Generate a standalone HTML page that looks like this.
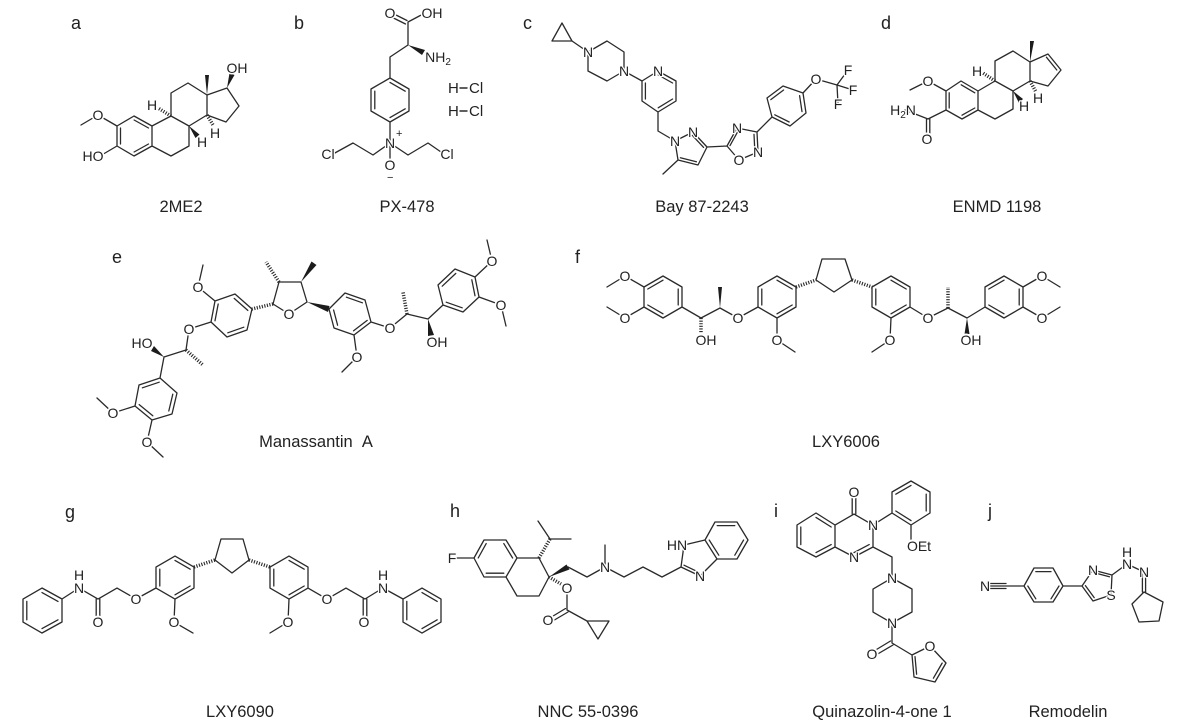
<!DOCTYPE html>
<html><head><meta charset="utf-8"><style>
html,body{margin:0;padding:0;background:#fff}
svg{display:block;filter:blur(.35px)}
text{font-family:"Liberation Sans",sans-serif;fill:#222}
.b{fill:none;stroke:#2a2a2a;stroke-width:1.3;stroke-linejoin:round;stroke-linecap:round}
.i{fill:none;stroke:#2a2a2a;stroke-width:1.6;stroke-linecap:round}
.h{fill:none;stroke:#2a2a2a;stroke-width:3.5;stroke-dasharray:1.1 1.5}
.w{fill:#1c1c1c}
.o circle{fill:#fff;r:6.5px}
.t text{font-size:14px;text-anchor:middle;paint-order:stroke;stroke:#fff;stroke-width:2.5px;stroke-linejoin:round}
.c text{font-size:16.5px;text-anchor:middle}
.l text{font-size:18px}
</style></head><body>
<svg width="1183" height="725" viewBox="0 0 1183 725" xmlns="http://www.w3.org/2000/svg">
<rect width="1183" height="725" fill="#fff"/>
<g class="b">
<!-- a -->
<path d="M81 125L98 115L117 126L134 116L152 126L152 146L134 156L117 146L117 126M117 146L100 156M152 126L171 116L171 93L188 83L207 95L207 115L189 126L189 146L171 156L152 146M171 116L189 126M207 95L227 88L239 106L226 122L207 115"/>
<!-- b -->
<path d="M389 11.5L407 20.5M387.500 15L405.500 24M408 22L425 13M408 22L408 45L390 57L390 78L409 89L409 111L390 122L371 111L371 89L390 78M390 122L390 143L373 155L353 143L333 154M390 143L408 155L428 143L441 152M390 143L390 160"/>
<path d="M460 88H467M460 111H467" stroke-width="1.4"/>
<!-- c -->
<path d="M562 23L552 41L572 41L562 23M572 41L588 52L607 41L624 52L624 71L607 81L588 71L588 52M624 71L642 81L658 71L676 81L676 101L658 112L642 101L642 81M658 112L658 131L675 141L693 132L707 147L698 165L678 160L675 141M678 160L663 174M707 147L727 146L737 128L757 132L758 152L739 160L727 146M757 132L772 117L790 126L806 113L803 93L783 86L767 98L772 117M803 93L816 79L837 85L848 70M837 85L853 90M837 85L838 104"/>
<!-- d -->
<path d="M910 90L928 81L946 91L961 81L978 91L978 110L962 119L946 110L946 91M946 110L928 119L905 110M926.500 119L926.500 134M929.800 119L929.800 134M978 91L995 81L995 61L1013 51L1030 62L1030 81L1013 91L1013 109L995 119L978 110M995 81L1013 91M1030 62L1048 54L1061 70L1048 86L1030 81"/>
<!-- e -->
<path d="M203 265L198 287L215 301L235 294L252 309L247 330L227 337L211 322L215 301M211 322L189 329L186 350L164 357L160 378L177 393L172 414L152 420L135 406L139 385L160 378M135 406L113 413L97 398M152 420L147 442L163 457M273 304L279 282L301 282L307 302L289 314L273 304M329 309L345 293L365 300L371 322L354 335L334 328L329 309M354 335L357 357L342 372M371 322L390 328L407 314L428 319L443 305L463 312L479 297L475 277L455 269L438 285L443 305M475 277L492 261L487 240M479 297L501 305L506 326"/>
<!-- f -->
<path d="M607 287L625 276L644 287L663 276L682 287L682 307L663 318L644 307L644 287M607 307L625 318L644 307M682 307L701 318L720 308L738 318L758 307L758 287L777 276L796 287L796 307L777 318L758 307M777 318L777 340L795 352M816 280L822 259L845 259L852 280L834 292L816 280M872 287L891 276L910 287L910 307L891 318L872 307L872 287M891 318L890 340L872 352M910 307L928 318L948 308L967 318L985 307L985 287L1004 276L1023 287L1023 307L1004 318L985 307M1023 287L1042 276L1060 287M1023 307L1042 318L1060 307"/>
<!-- g -->
<path d="M42 588L62 599L62 622L42 633L23 622L23 599L42 588M62 599L79 588L98 599L117 588L136 599L156 588L156 567L175 556L194 567L194 588L175 599L156 588M96.200 599V618M99.800 599V618M175 599L174 622L193 633M215 560L221 539L243 539L249 560L232 573L215 560M270 567L289 556L308 567L308 588L289 599L270 588L270 567M289 599L288 622L270 633M308 588L327 599L346 588L365 599L383 588L403 599L422 588L441 599L441 622L422 633L403 622L403 599M363.200 599V618M366.800 599V618"/>
<!-- h -->
<path d="M452 558L474 558L484 540L506 540L517 558L506 577L484 577L474 558M517 558L539 558L549 577L539 596L517 596L506 577M550 539L538 521M550 539L571 539M568 567L587 577L605 567L605 545M605 567L624 577L643 567L662 577L681 567L700 576L717 559L705 540L684 545L681 567M705 540L715 522L737 522L748 540L737 559L717 559L705 540M567 588L567 610L587 621L609 621L598 639L587 621M565.500 608.500L549 618.500M568 612L551 622"/>
<!-- i -->
<path d="M797 525L816 513L835 525L835 547L816 557L797 547L797 525M835 525L854 514L873 525L873 547L854 557L835 547M852.200 514V496M855.800 514V496M873 525L892 513L892 492L911 481L930 492L930 513L911 525L892 513M911 525L911 546M873 547L892 557L892 578L912 589L912 612L892 623L873 612L873 589L892 578M892 623L892 643L912 655L930 646L946 663L935 682L914 677L912 655M890.500 641L874 651M893 645L876 655"/>
<!-- j -->
<path d="M1024 586L1034 568L1053 568L1063 586L1053 602L1034 602L1024 586M1063 586L1082 586L1093 570L1112 575L1111 595L1093 601L1082 586M1112 575L1127 564L1144 572M1142.400 572V592M1145.600 572V592M1144 592L1163 602L1159 621L1139 622L1132 604L1144 592M987 583.500H1006M987 586H1024M987 588.500H1006"/>
</g>
<!-- inner double-bond lines -->
<g class="i">
<path transform="matrix(.8 0 0 .8 26.900 27.200)" d="M134 116L152 126M152 146L134 156M117 146L117 126"/>
<path transform="matrix(.8 0 0 .8 78 20)" d="M390 78L409 89M409 111L390 122M371 111L371 89"/>
<path transform="matrix(.8 0 0 .8 131.800 18.200)" d="M658 71L676 81M676 101L658 112M642 101L642 81"/>
<path transform="matrix(.8 0 0 .8 157.200 21.200)" d="M767 98L783 86M803 93L806 113M790 126L772 117"/>
<path transform="matrix(.8 0 0 .8 138 29.800)" d="M693 132L707 147M698 165L678 160"/>
<path transform="matrix(.8 0 0 .8 148.400 28.800)" d="M727 146L737 128M757 132L758 152"/>
<path transform="matrix(.8 0 0 .8 192.400 20)" d="M961 81L978 91M978 110L962 119M946 110L946 91"/>
<path transform="matrix(.8 0 0 .8 208 14)" d="M1048 54L1061 70"/>
<path transform="matrix(.8 0 0 .8 46.200 63.200)" d="M235 294L252 309M247 330L227 337M211 322L215 301"/>
<path transform="matrix(.8 0 0 .8 31.200 79.800)" d="M139 385L160 378M177 393L172 414M152 420L135 406"/>
<path transform="matrix(.8 0 0 .8 70.400 62.800)" d="M345 293L365 300M371 322L354 335M334 328L329 309"/>
<path transform="matrix(.8 0 0 .8 91.800 58.200)" d="M443 305L463 312M479 297L475 277M455 269L438 285"/>
<path transform="matrix(.8 0 0 .8 132.600 59.400)" d="M644 287L663 276M682 287L682 307M663 318L644 307"/>
<path transform="matrix(.8 0 0 .8 155.400 59.400)" d="M758 307L758 287M777 276L796 287M796 307L777 318"/>
<path transform="matrix(.8 0 0 .8 178.200 59.400)" d="M872 287L872 307M891 276L910 287M910 307L891 318"/>
<path transform="matrix(.8 0 0 .8 200.800 59.400)" d="M985 287L1004 276M1023 287L1023 307M1004 318L985 307"/>
<path transform="matrix(.8 0 0 .8 8.400 122.200)" d="M42 588L62 599M62 622L42 633M23 622L23 599"/>
<path transform="matrix(.8 0 0 .8 35 115.600)" d="M156 588L156 567M175 556L194 567M194 588L175 599"/>
<path transform="matrix(.8 0 0 .8 57.800 115.600)" d="M270 567L270 588M289 556L308 567M308 588L289 599"/>
<path transform="matrix(.8 0 0 .8 84.400 122.200)" d="M422 588L441 599M441 622L422 633M403 622L403 599"/>
<path transform="matrix(.8 0 0 .8 99 111.600)" d="M474 558L484 540M506 540L517 558M506 577L484 577"/>
<path transform="matrix(.8 0 0 .8 145.200 108)" d="M715 522L737 522M748 540L737 559M717 559L705 540"/>
<path transform="matrix(.8 0 0 .8 139.200 111.600)" d="M681 567L700 576"/>
<path transform="matrix(.8 0 0 .8 163.200 107)" d="M797 525L797 547M816 513L835 525M835 547L816 557"/>
<path transform="matrix(.8 0 0 .8 170.800 107)" d="M854 557L873 547"/>
<path transform="matrix(.8 0 0 .8 182.200 100.600)" d="M892 492L911 481M930 492L930 513M911 525L892 513"/>
<path transform="matrix(.8 0 0 .8 185.400 132.600)" d="M912 655L914 677M946 663L935 682"/>
<path transform="matrix(.8 0 0 .8 208.600 117.200)" d="M1034 568L1053 568M1063 586L1053 602M1034 602L1024 586"/>
<path transform="matrix(.8 0 0 .8 219.800 116.800)" d="M1093 570L1112 575M1082 586L1093 601"/>
</g>
<!-- hashed bonds -->
<g class="h">
<path d="M171 116L158 108M207 115L213 125"/>
<path d="M995 81L983 73M1030 81L1036 92"/>
<path d="M186 350L203 365M273 304L252 309M279 282L266 262M407 314L403 292"/>
<path d="M701 318L701 333M796 287L816 280M852 280L872 287M948 308L948 287"/>
<path d="M194 567L215 560M249 560L270 567"/>
<path d="M539 558L550 539M549 577L561 584"/>
</g>
<!-- wedges -->
<g class="w">
<polygon points="207,95 205,75 209,75"/>
<polygon points="227,88 229.500,73 234.500,75"/>
<polygon points="189,126 199.500,134.500 195.500,138"/>
<polygon points="408,45 425,50 422,55"/>
<polygon points="1030,62 1030,41 1034,41"/>
<polygon points="1013,91 1023,99 1019,103"/>
<polygon points="164,357 151,351 154,346"/>
<polygon points="428,319 428,336 434,335"/>
<polygon points="301,282 311.500,261.500 316.500,265"/>
<polygon points="307,302 329.500,306 328,312"/>
<polygon points="720,308 718,287 722,287"/>
<polygon points="967,318 964.500,334 969.500,334"/>
<polygon points="549,577 566.500,564.500 569.500,569.500"/>
</g>
<!-- white backing for oxygen labels -->
<g class="o" fill="#fff">
<circle cx="98" cy="115" r="6.5"/><circle cx="232" cy="68" r="6.5"/><circle cx="98" cy="156" r="6.5"/>
<circle cx="390" cy="13" r="6.5"/><circle cx="427" cy="13" r="6.5"/><circle cx="390" cy="165" r="6.5"/>
<circle cx="816" cy="79" r="6.5"/><circle cx="739" cy="160" r="6.5"/>
<circle cx="928" cy="81" r="6.5"/><circle cx="927" cy="139" r="6.5"/>
<circle cx="198" cy="287" r="6.5"/><circle cx="189" cy="329" r="6.5"/><circle cx="147" cy="343" r="6.5"/>
<circle cx="113" cy="413" r="6.5"/><circle cx="147" cy="442" r="6.5"/><circle cx="289" cy="314" r="6.5"/>
<circle cx="357" cy="357" r="6.5"/><circle cx="390" cy="328" r="6.5"/><circle cx="432" cy="342" r="6.5"/>
<circle cx="492" cy="261" r="6.5"/><circle cx="501" cy="305" r="6.5"/>
<circle cx="625" cy="276" r="6.5"/><circle cx="625" cy="318" r="6.5"/><circle cx="701" cy="340" r="6.5"/>
<circle cx="738" cy="318" r="6.5"/><circle cx="777" cy="340" r="6.5"/><circle cx="890" cy="340" r="6.5"/>
<circle cx="928" cy="318" r="6.5"/><circle cx="966" cy="340" r="6.5"/><circle cx="1042" cy="276" r="6.5"/><circle cx="1042" cy="318" r="6.5"/>
<circle cx="98" cy="622" r="6.5"/><circle cx="136" cy="599" r="6.5"/><circle cx="174" cy="622" r="6.5"/>
<circle cx="288" cy="622" r="6.5"/><circle cx="327" cy="599" r="6.5"/><circle cx="364" cy="622" r="6.5"/>
<circle cx="567" cy="588" r="6.5"/><circle cx="548" cy="620" r="6.5"/>
<circle cx="854" cy="492" r="6.5"/><circle cx="912" cy="546" r="6.5"/><circle cx="872" cy="654" r="6.5"/><circle cx="930" cy="646" r="6.5"/>
</g>
<!-- atom labels -->
<g class="t">
<text x="98" y="120">O</text><text x="93" y="161">HO</text><text x="237" y="73">OH</text>
<text x="152" y="110">H</text><text x="215" y="138">H</text><text x="202" y="147">H</text>
<text x="390" y="18">O</text><text x="432" y="18">OH</text>
<text x="438" y="62">NH<tspan font-size="10" dy="3">2</tspan></text>
<text x="390" y="148">N</text><text x="328" y="159">Cl</text><text x="447" y="159">Cl</text><text x="390" y="170">O</text>
<text x="658" y="76">N</text><text x="588" y="57">N</text><text x="624" y="76">N</text>
<text x="675" y="146">N</text><text x="693" y="137">N</text><text x="737" y="133">N</text><text x="758" y="157">N</text><text x="739" y="165">O</text>
<text x="816" y="84">O</text><text x="848" y="75">F</text><text x="853" y="95">F</text><text x="838" y="109">F</text>
<text x="928" y="86">O</text><text x="927" y="144">O</text>
<text x="903" y="115">H<tspan font-size="10" dy="3">2</tspan><tspan dy="-3">N</tspan></text>
<text x="977" y="76">H</text><text x="1038" y="103">H</text><text x="1024" y="111">H</text>
<text x="198" y="292">O</text><text x="189" y="334">O</text><text x="142" y="348">HO</text>
<text x="113" y="418">O</text><text x="147" y="447">O</text><text x="289" y="319">O</text>
<text x="357" y="362">O</text><text x="390" y="333">O</text><text x="437" y="347">OH</text>
<text x="492" y="266">O</text><text x="501" y="310">O</text>
<text x="625" y="281">O</text><text x="625" y="323">O</text><text x="706" y="345">OH</text><text x="738" y="323">O</text>
<text x="777" y="345">O</text><text x="890" y="345">O</text><text x="928" y="323">O</text><text x="971" y="345">OH</text>
<text x="1042" y="281">O</text><text x="1042" y="323">O</text>
<text x="79" y="593">N</text><text x="79" y="580">H</text><text x="98" y="627">O</text><text x="136" y="604">O</text>
<text x="174" y="627">O</text><text x="288" y="627">O</text><text x="327" y="604">O</text>
<text x="364" y="627">O</text><text x="383" y="593">N</text><text x="383" y="580">H</text>
<text x="452" y="563">F</text><text x="605" y="572">N</text><text x="700" y="581">N</text><text x="677" y="550">HN</text>
<text x="567" y="593">O</text><text x="548" y="625">O</text>
<text x="854" y="497">O</text><text x="873" y="530">N</text><text x="854" y="562">N</text><text x="919" y="551">OEt</text>
<text x="892" y="583">N</text><text x="892" y="628">N</text><text x="872" y="659">O</text><text x="930" y="651">O</text>
<text x="985" y="591">N</text><text x="1093" y="575">N</text><text x="1111" y="600">S</text>
<text x="1127" y="569">N</text><text x="1127" y="557">H</text><text x="1144" y="577">N</text>
</g>
<text x="396" y="137" font-size="11">+</text>
<text x="387" y="181" font-size="11">−</text>
<text x="448" y="93" font-size="15">H</text><text x="469" y="93" font-size="15">Cl</text>
<text x="448" y="116" font-size="15">H</text><text x="469" y="116" font-size="15">Cl</text>
<!-- panel letters -->
<g class="l">
<text x="71" y="29">a</text><text x="294" y="29">b</text><text x="523" y="29">c</text><text x="881" y="29">d</text>
<text x="112" y="263">e</text><text x="575" y="263">f</text>
<text x="65" y="518">g</text><text x="450" y="517">h</text><text x="774" y="517">i</text><text x="988" y="517">j</text>
</g>
<!-- captions -->
<g class="c">
<text x="181" y="212">2ME2</text><text x="407" y="212">PX-478</text><text x="702" y="212">Bay 87-2243</text><text x="997" y="212">ENMD 1198</text>
<text x="316" y="447">Manassantin&#160;&#160;A</text><text x="846" y="447">LXY6006</text>
<text x="240" y="717">LXY6090</text><text x="588" y="717">NNC 55-0396</text><text x="882" y="717">Quinazolin-4-one 1</text><text x="1068" y="717">Remodelin</text>
</g>
</svg>
</body></html>
